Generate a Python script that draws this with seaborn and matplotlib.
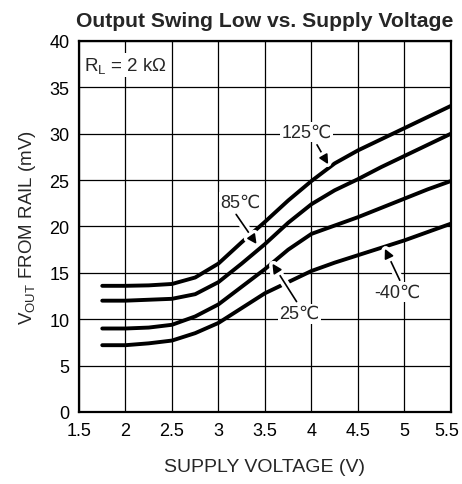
import numpy as np
import pandas as pd
import matplotlib
matplotlib.use("Agg")
import matplotlib.pyplot as plt
import matplotlib.patheffects as pe
import matplotlib.transforms as mtransforms
import seaborn as sns

# Supply voltage (V)
supply_v = [1.75, 2.0, 2.25, 2.5, 2.75, 3.0, 3.25, 3.5, 3.75, 4.0, 4.25, 4.5, 4.75, 5.0, 5.25, 5.5]

# Output swing low, distance from rail (mV), per temperature
vout_125c = [13.6, 13.6, 13.65, 13.8, 14.5, 16.0, 18.3, 20.5, 22.8, 24.9, 26.8, 28.2, 29.4, 30.6, 31.8, 33.0]
vout_85c = [12.0, 12.0, 12.1, 12.2, 12.7, 14.0, 16.0, 18.1, 20.4, 22.4, 23.9, 25.1, 26.4, 27.6, 28.8, 30.0]
vout_25c = [9.0, 9.0, 9.1, 9.4, 10.3, 11.6, 13.5, 15.4, 17.5, 19.2, 20.1, 21.0, 22.0, 23.0, 24.0, 24.9]
vout_m40c = [7.2, 7.2, 7.4, 7.7, 8.5, 9.6, 11.2, 12.8, 14.0, 15.2, 16.1, 16.9, 17.7, 18.5, 19.4, 20.3]

temps = ["125℃", "85℃", "25℃", "-40℃"]
x_ticks = [1.5, 2, 2.5, 3, 3.5, 4, 4.5, 5, 5.5]
x_tick_labels = ["1.5", "2", "2.5", "3", "3.5", "4", "4.5", "5", "5.5"]
y_ticks = [0, 5, 10, 15, 20, 25, 30, 35, 40]

df = pd.concat(
    [pd.DataFrame({"v": supply_v, "mv": vals, "temp": t})
     for t, vals in zip(temps, [vout_125c, vout_85c, vout_25c, vout_m40c])],
    ignore_index=True,
)

sns.set_style("white")
plt.rcParams["font.family"] = ["Liberation Sans", "DejaVu Sans"]
plt.rcParams["mathtext.fontset"] = "custom"
plt.rcParams["mathtext.rm"] = "Liberation Sans"
plt.rcParams["mathtext.it"] = "Liberation Sans"

fig = plt.figure(figsize=(4.62, 4.85), dpi=100)
ax = fig.add_axes([0.171, 0.1485, 0.805, 0.765])

ax.grid(True, color="black", linewidth=0.9)
ax.set_axisbelow(True)

sns.lineplot(data=df, x="v", y="mv", hue="temp", palette=["black"] * 4,
             linewidth=2.8, legend=False, ax=ax, zorder=3)

ax.set_xlim(1.5, 5.5)
ax.set_ylim(0, 40)
ax.set_xticks(x_ticks)
ax.set_xticklabels(x_tick_labels)
ax.set_yticks(y_ticks)
ax.tick_params(length=0, labelsize=13, colors="black", pad=7)
for s in ax.spines.values():
    s.set_color("black")
    s.set_linewidth(1.6)

# keep the outermost x label inside the canvas
last = ax.get_xticklabels()[-1]
last.set_transform(last.get_transform() +
                   mtransforms.ScaledTranslation(-4 / 100, 0, fig.dpi_scale_trans))

ax.set_xlabel("SUPPLY VOLTAGE (V)", fontsize=14, labelpad=14)
ax.set_ylabel(r"V$_{\rm OUT}$ FROM RAIL (mV)", fontsize=13.5, labelpad=8)
ax.set_title("Output Swing Low vs. Supply Voltage", fontsize=15.2,
             fontweight="bold", pad=11)

# Load condition
ax.text(1.55, 37.4, r"R$_{\rm L}$ = 2 k$\Omega$", fontsize=13.5, va="center", ha="left",
        bbox=dict(facecolor="white", edgecolor="none", pad=1.5), zorder=4)

# Temperature callouts: (text x, text y, arrow start, arrow tip)
callouts = [
    ("125℃", 3.95, 30.2, (4.06, 28.8), (4.18, 26.7)),
    ("85℃", 3.24, 22.6, (3.19, 21.3), (3.41, 18.1)),
    ("25℃", 3.87, 10.6, (3.84, 11.9), (3.58, 16.0)),
    ("-40℃", 4.92, 12.9, (4.95, 14.2), (4.79, 17.6)),
]
for label, tx, ty, start, tip in callouts:
    ax.text(tx, ty, label, fontsize=13, ha="center", va="center", zorder=5,
            bbox=dict(facecolor="white", edgecolor="none", pad=1.0))
    arr = ax.annotate("", xy=tip, xytext=start, zorder=6,
                      arrowprops=dict(arrowstyle="-|>", color="black", lw=1.2,
                                      mutation_scale=14, shrinkA=0, shrinkB=0))
    arr.arrow_patch.set_path_effects([pe.Stroke(linewidth=6, foreground="white"), pe.Normal()])

fig.savefig("out.png", dpi=100)
